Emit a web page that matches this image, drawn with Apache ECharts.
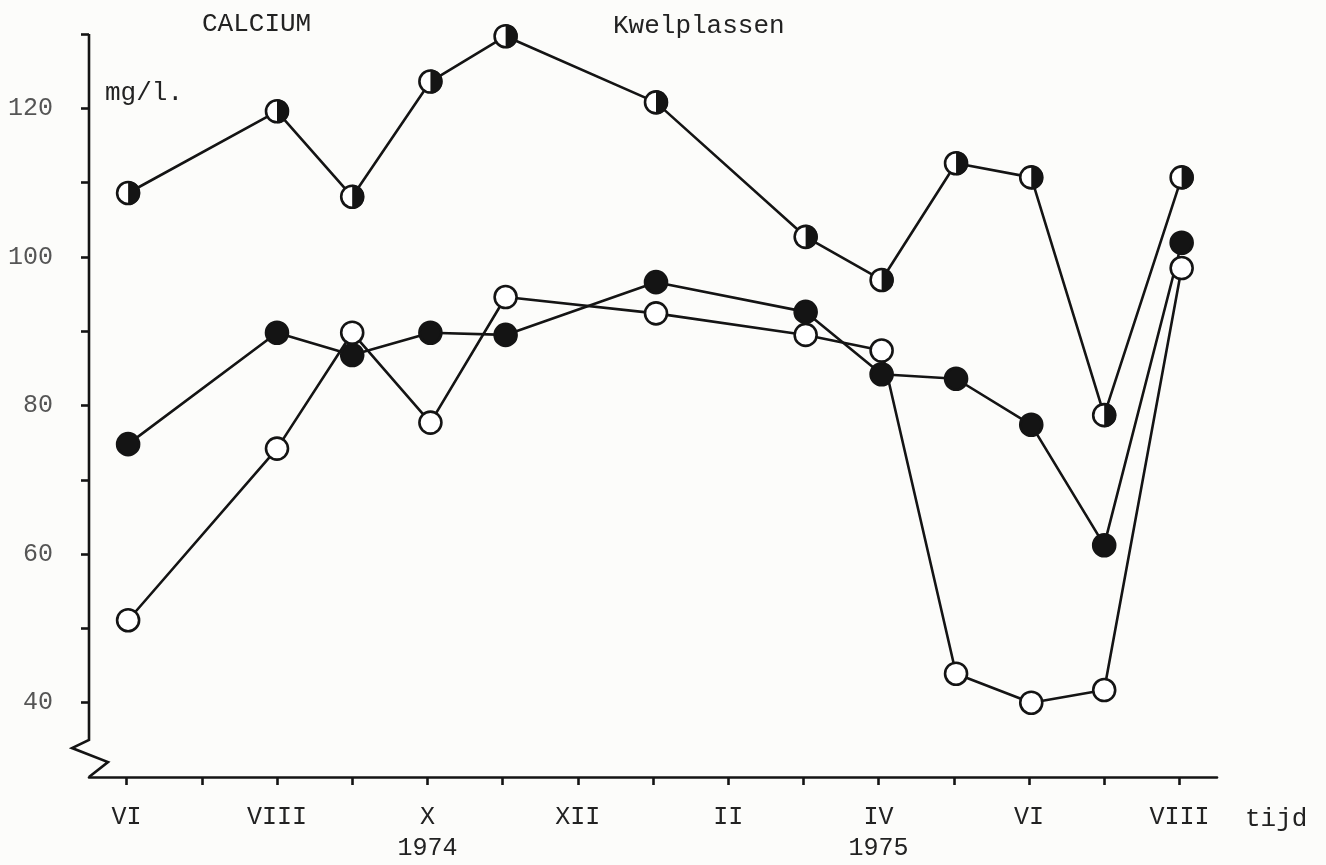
<!DOCTYPE html>
<html>
<head>
<meta charset="utf-8">
<title>Calcium - Kwelplassen</title>
<script src="https://cdn.jsdelivr.net/npm/echarts@6/dist/echarts.min.js"></script>
<style>
    html, body { margin: 0; padding: 0; background: #fcfcfa; }
    #chart { width: 1326px; height: 865px; }
</style>
</head>
<body>
<div id="chart"></div>
<script>
// maanden geteld vanaf juni 1974 (0 = VI 1974 ... 14 = VIII 1975)
var monthTicks = [0, 1, 2, 3, 4, 5, 6, 7, 8, 9, 10, 11, 12, 13, 14];
var monthLabels = ['VI', 'VII', 'VIII', 'IX', 'X', 'XI', 'XII', 'I', 'II', 'III', 'IV', 'V', 'VI', 'VII', 'VIII'];
var labelMonths = [0, 2, 4, 6, 8, 10, 12, 14];
var yearLabels = {4: '1974', 10: '1975'};

var yTicks = [40, 50, 60, 70, 80, 90, 100, 110, 120, 130];
var yLabels = [40, 60, 80, 100, 120];

// bemonsteringstijdstippen (maand-index)
var sampleMonths = [0.02, 2.0, 3.0, 4.04, 5.04, 7.04, 9.03, 10.04, 11.03, 12.03, 13.0, 14.03];

// Ca in mg/l.
var halfValues   = [108.6, 119.6, 108.1, 123.6, 129.7, 120.8, 102.7, 96.9, 112.6, 110.7, 78.7, 110.7];
var filledValues = [74.8, 89.8, 86.8, 89.8, 89.5, 96.6, 92.6, 84.2, 83.6, 77.4, 61.2, 101.9];
var openValues   = [51.1, 74.2, 89.8, 77.7, 94.6, 92.4, 89.5, 87.4, 43.9, 40.0, 41.7, 98.5];

(function() {
    var INK = '#141414';
    var FONT = '"Liberation Mono", "DejaVu Sans Mono", monospace';

    function toPairs(values) {
        return values.map(function(v, i) { return [sampleMonths[i], v]; });
    }

    function lineSeries(name, values, fill) {
        return {
            name: name,
            type: 'line',
            data: toPairs(values),
            symbol: 'circle',
            symbolSize: 22,
            showSymbol: true,
            lineStyle: { color: INK, width: 2.6 },
            itemStyle: { color: fill, borderColor: INK, borderWidth: 2.6 },
            emphasis: { disabled: true },
            silent: true,
            animation: false
        };
    }

    var chart = echarts.init(document.getElementById('chart'));

    var option = {
        backgroundColor: '#fcfcfa',
        animation: false,
        title: [
            { text: 'CALCIUM', left: 202, top: 11 },
            { text: 'Kwelplassen', left: 613, top: 13 },
            { text: 'mg/l.', left: 105, top: 80 },
            { text: 'tijd', left: 1245, top: 806 }
        ].map(function(t) {
            t.padding = 0;
            t.textStyle = { fontFamily: FONT, fontSize: 26, fontWeight: 'normal', color: '#222' };
            return t;
        }),
        grid: { left: 89, right: 109, top: 34, bottom: 88 },
        xAxis: {
            type: 'value',
            min: -0.5,
            max: 14.5,
            splitLine: { show: false },
            axisLine: { show: true, onZero: false, lineStyle: { color: INK, width: 2.6 } },
            axisTick: { show: true, customValues: monthTicks, length: 8, lineStyle: { color: INK, width: 2.6 } },
            axisLabel: {
                customValues: labelMonths,
                margin: 25,
                fontFamily: FONT,
                fontSize: 25,
                lineHeight: 31,
                color: '#222',
                formatter: function(v) {
                    var i = Math.round(v);
                    var s = monthLabels[i];
                    if (yearLabels[i]) {
                        s += '\n' + yearLabels[i];
                    }
                    return s;
                }
            }
        },
        yAxis: {
            type: 'value',
            min: 30,
            max: 130,
            splitLine: { show: false },
            axisLine: { show: false, onZero: false },
            axisTick: { show: true, customValues: yTicks, length: 8, lineStyle: { color: INK, width: 2.6 } },
            axisLabel: {
                customValues: yLabels,
                margin: 36,
                fontFamily: FONT,
                fontSize: 25,
                color: '#555'
            }
        },
        series: [
            lineSeries('open', openValues, '#ffffff'),
            lineSeries('gevuld', filledValues, INK),
            lineSeries('half', halfValues, '#ffffff'),
            {
                // rechter helft van de halfgevulde cirkels
                name: 'half-vulling',
                type: 'scatter',
                data: toPairs(halfValues),
                symbol: 'path://M0,0 A50,50 0 0 1 0,100 Z',
                symbolSize: [12, 24],
                symbolOffset: [6, 0],
                itemStyle: { color: INK, opacity: 1 },
                z: 5,
                silent: true
            }
        ]
    };

    chart.setOption(option);

    // y-as met onderbreking (zigzag) vlak boven de x-as
    var top = chart.convertToPixel({ yAxisIndex: 0 }, 130);
    var brk = chart.convertToPixel({ yAxisIndex: 0 }, 35);
    var bottom = chart.convertToPixel({ yAxisIndex: 0 }, 30);
    var x0 = chart.convertToPixel({ xAxisIndex: 0 }, -0.5);
    var h = bottom - brk;

    chart.setOption({
        graphic: [{
            type: 'polyline',
            silent: true,
            z: 10,
            shape: {
                points: [
                    [x0, top],
                    [x0, brk],
                    [x0 - 17, brk + h * 0.22],
                    [x0 + 19, brk + h * 0.6],
                    [x0, bottom]
                ]
            },
            style: { stroke: INK, lineWidth: 2.6, fill: null }
        }]
    });
})();
</script>
</body>
</html>
